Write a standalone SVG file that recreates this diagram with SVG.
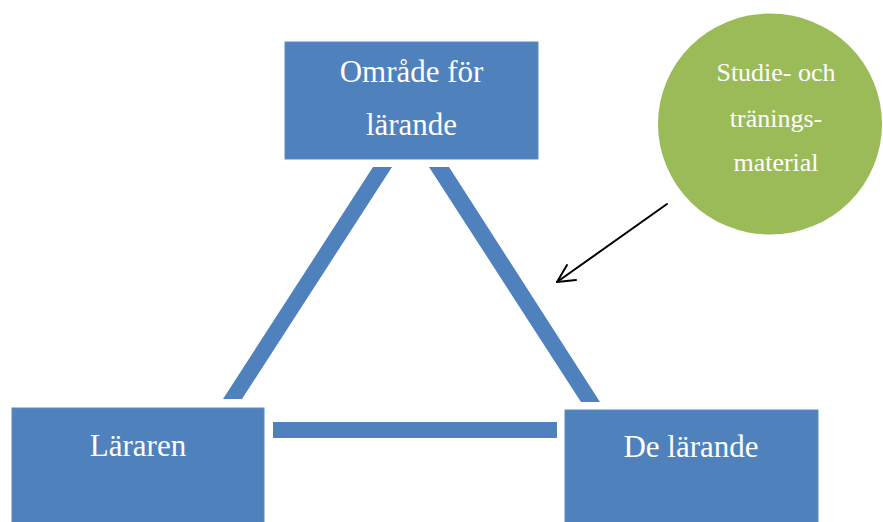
<svg xmlns="http://www.w3.org/2000/svg" width="883" height="522" viewBox="0 0 883 522">
<defs>
<style>
.box{fill:#4F81BD;stroke:#5B8BC4;stroke-width:1}
.bar{fill:#4F81BD}
.t{font-family:"Liberation Serif","Times New Roman",serif;fill:#FFFFFF;text-anchor:middle}
.tb{font-size:31px}
.tc{font-size:26px}
.arrow{stroke:#000;stroke-width:2;fill:none;stroke-linecap:round;stroke-linejoin:round}
</style>
<marker id="open" markerWidth="12" markerHeight="12" refX="10" refY="6" orient="auto" markerUnits="userSpaceOnUse" viewBox="0 0 12 12">
<path d="M1,0.5 L10,6 L1,11.5" fill="none" stroke="#000" stroke-width="2" stroke-linecap="round" stroke-linejoin="round"/>
</marker>
</defs>
<rect width="883" height="522" fill="#FFFFFF"/>
<g id="connectors">
<polygon class="bar" points="373,167 392,167 242,399 223,399"/>
<polygon class="bar" points="429,167 449,167 600,402 581,402"/>
<rect class="bar" x="273" y="422" width="284" height="16"/>
<path class="arrow" d="M667,204 L557,282"/>
<path class="arrow" d="M567,265 L557,282 L576,280"/>
</g>
<g id="omrade">
<rect class="box" x="285" y="42" width="253" height="117"/>
<text class="t tb" x="411.5" y="82">Område för</text>
<text class="t tb" x="411.5" y="135">lärande</text>
</g>
<g id="lararen">
<rect class="box" x="12" y="408" width="252" height="120"/>
<text class="t tb" x="138" y="456">Läraren</text>
</g>
<g id="delarande">
<rect class="box" x="565" y="410" width="253" height="118"/>
<text class="t tb" x="691" y="457">De lärande</text>
</g>
<g id="material">
<ellipse cx="770" cy="124" rx="112" ry="110.5" fill="#9BBB59"/>
<text class="t tc" x="776" y="81">Studie- och</text>
<text class="t tc" x="776" y="127">tränings-</text>
<text class="t tc" x="776" y="171">material</text>
</g>
</svg>
